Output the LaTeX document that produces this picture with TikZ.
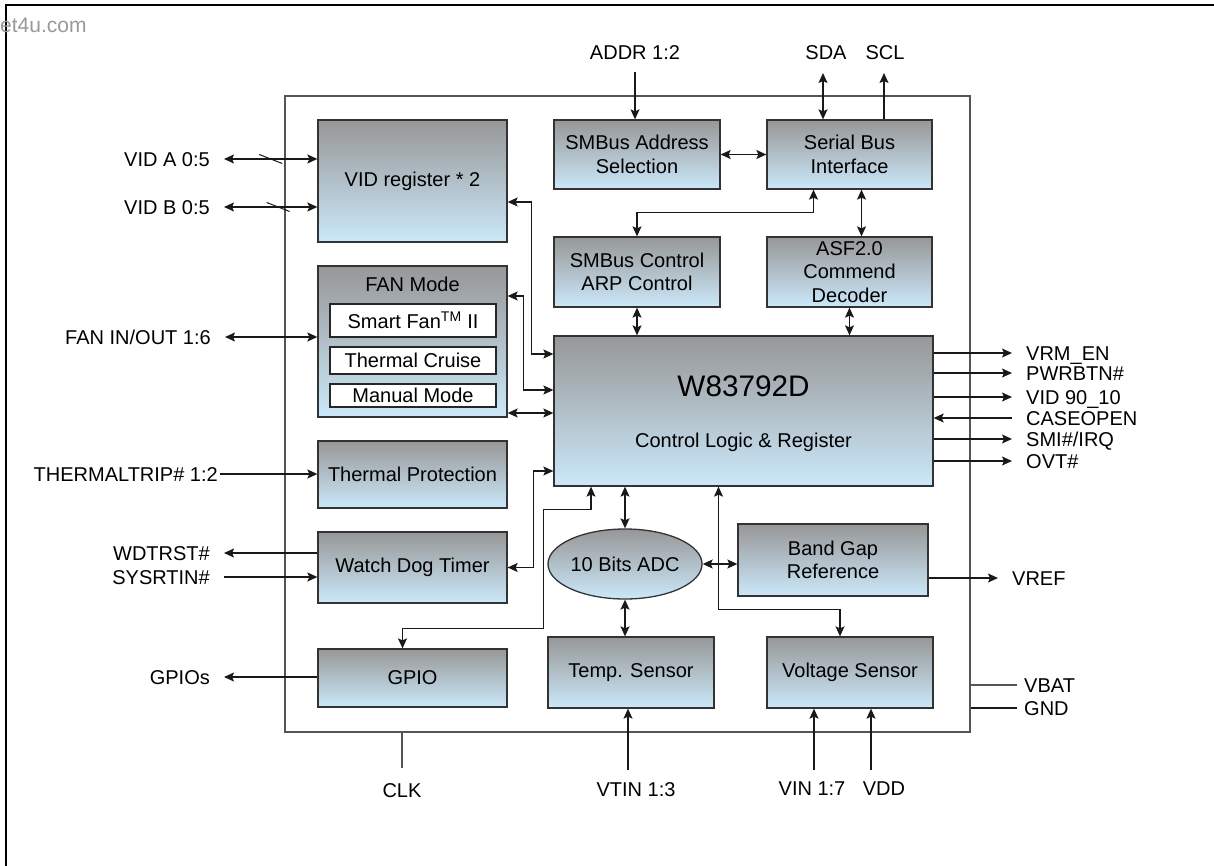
\documentclass[tikz,border=0pt]{standalone}
\usepackage{fontspec}
\setmainfont{Liberation Sans}
\usepackage{tikz}
\usetikzlibrary{shapes,arrows.meta}

\definecolor{blocktop}{HTML}{979797}
\definecolor{blockbot}{HTML}{CBE8FA}
\definecolor{chipline}{HTML}{555555}

\begin{document}
\begin{tikzpicture}[x=1pt,y=-1pt]
    \newcommand{\pingap}[0]{ 14pt }
    \tikzstyle{wire}  = [line width=1.3pt,>={Stealth[length=10pt,width=9pt,inset=2pt]},draw=black!90]
    \tikzstyle{block} = [
      rectangle,
      draw=black!80,
      line width=1.3pt,
      top color=blocktop,
      bottom color=blockbot,
      align=center,
      inner sep=0pt,
      font=\fontsize{20}{23.5}\selectfont
    ]
    \tikzstyle{mode}=[
      rectangle,
      draw=black!85,
      line width=1.3pt,
      fill=white,
      minimum width=166pt,
      inner sep=0pt,
      font=\fontsize{20}{23}\selectfont
    ]
    \tikzstyle{sig}      = [inner sep=0pt,text height=14.3pt,text depth=0pt,font=\fontsize{20}{23}\selectfont]
    \tikzstyle{sigleft}  = [sig,anchor=east,inner xsep=\pingap]
    \tikzstyle{sigright} = [sig,anchor=west,inner xsep=\pingap]

    \useasboundingbox (0,0) rectangle (1214,866);
    \draw[line width=2pt] (1214,5) -- (6,5) -- (6,866);
    \node[anchor=base west,inner sep=0pt,text=black!40,font=\fontsize{21}{24}\selectfont] (mark) at (0,33) {et4u.com};

    \node[draw=chipline,line width=1.3pt,minimum width=685pt,minimum height=636pt,inner sep=0pt] (chip) at (627.5,414) {};

    \node[block,minimum width=189pt,minimum height=122pt] (vidreg) at (412.5,181) {VID register * 2};
    \node[block,minimum width=189pt,minimum height=151pt] (fanmode) at (412.5,341.5) {};
    \node[sig] (fantitle) at (412.5,284) {FAN Mode};
    \node[mode,minimum height=33pt] (smartfan) at (413,320.5) {Smart Fan\textsuperscript{TM} II};
    \node[mode,minimum height=27pt] (cruise) at (413,360.5) {Thermal Cruise};
    \node[mode,minimum height=23pt] (manual) at (413,395.5) {Manual Mode};
    \node[block,minimum width=189pt,minimum height=67pt] (thermprot) at (412.5,474.5) {Thermal Protection};
    \node[block,minimum width=189pt,minimum height=71pt] (wdt) at (412.5,567.5) {Watch Dog Timer};
    \node[block,minimum width=189pt,minimum height=58pt] (gpio) at (412.5,678) {GPIO};
    \node[block,minimum width=166pt,minimum height=69pt] (smbaddr) at (637,154.5) {SMBus Address\\Selection};
    \node[block,minimum width=165pt,minimum height=69pt] (serbus) at (849.5,154.5) {Serial Bus\\Interface};
    \node[block,minimum width=166pt,minimum height=70pt] (smbctl) at (637,272) {SMBus Control\\ARP Control};
    \node[block,minimum width=165pt,minimum height=70pt] (asf) at (849.5,272) {ASF2.0\\Commend\\Decoder};
    \node[block,minimum width=379pt,minimum height=150pt] (main) at (743.5,411) {};
    \node[inner sep=0pt,font=\fontsize{29.7}{32}\selectfont] (chipname) at (743.5,386) {W83792D};
    \node[sig] (chipfunc) at (743.5,440) {Control Logic \& Register};
    \node[block,ellipse,minimum width=142pt,minimum height=70pt] (adc) at (625,564) {10 Bits ADC};
    \node[block,minimum width=190pt,minimum height=72pt] (bandgap) at (833,560) {Band Gap\\Reference};
    \node[block,minimum width=166pt,minimum height=71pt] (temp) at (631,672.5) {Temp. Sensor};
    \node[block,minimum width=166pt,minimum height=71pt] (volt) at (850,672.5) {Voltage Sensor};

    \node[sigleft] (vida) at (224,159) {VID A 0:5};
    \node[sigleft] (vidb) at (224,207) {VID B 0:5};
    \node[sigleft] (fanio) at (225,337) {FAN IN/OUT 1:6};
    \node[sig,anchor=east,inner xsep=2pt] (thtrip) at (220,474) {THERMALTRIP\# 1:2};
    \node[sigleft] (wdtrst) at (224,553) {WDTRST\#};
    \node[sigleft] (sysrtin) at (224,577) {SYSRTIN\#};
    \node[sigleft] (gpios) at (224,677) {GPIOs};

    \node[sigright] (vrmen) at (1012,353) {VRM\_EN};
    \node[sigright] (pwrbtn) at (1012,373) {PWRBTN\#};
    \node[sigright] (vid9010) at (1012,397) {VID 90\_10};
    \node[sigright] (caseopen) at (1012,418) {CASEOPEN};
    \node[sigright] (smiirq) at (1012,439) {SMI\#/IRQ};
    \node[sigright] (ovt) at (1012,461) {OVT\#};
    \node[sigright] (vref) at (998,578) {VREF};
    \node[sig,anchor=west,inner xsep=7pt] (vbat) at (1017,685) {VBAT};
    \node[sig,anchor=west,inner xsep=7pt] (gnd) at (1017,708) {GND};

    \coordinate (addr pin) at (635,72);
    \coordinate (sda pin) at (823,73);
    \coordinate (scl pin) at (884,73);
    \coordinate (clk pin) at (402,768);
    \coordinate (vtin pin) at (628,770);
    \coordinate (vin pin) at (814,770);
    \coordinate (vdd pin) at (871,770);
    \node[sig] (addr) at (635,52) {ADDR 1:2};
    \node[sig] (sda) at (826,52) {SDA};
    \node[sig] (scl) at (885,52) {SCL};
    \node[sig] (clk) at (402,790) {CLK};
    \node[sig] (vtin) at (636,789) {VTIN 1:3};
    \node[sig] (vin) at (812,788) {VIN 1:7};
    \node[sig] (vdd) at (884,788) {VDD};

    \draw[wire,<->] (vida.east) -- (vida.east -| vidreg.west) coordinate[pos=0.5] (vida bus);
    \draw[wire,<->] (vidb.east) -- (vidb.east -| vidreg.west) coordinate[pos=0.58] (vidb bus);
    \draw[wire,line width=1pt] ([shift={(-11.5,-4.5)}]vida bus) -- ++(23,9);
    \draw[wire,line width=1pt] ([shift={(-11.5,-4.5)}]vidb bus) -- ++(23,9);
    \draw[wire,<->] (fanio.east) -- (fanio.east -| fanmode.west);
    \draw[wire,->] (thtrip.east) -- (thtrip.east -| thermprot.west);
    \draw[wire,->] (wdtrst.east -| wdt.west) -- (wdtrst.east);
    \draw[wire,->] (sysrtin.east) -- (sysrtin.east -| wdt.west);
    \draw[wire,->] (gpios.east -| gpio.west) -- (gpios.east);

    \draw[wire,->] (main.east |- vrmen.west) -- (vrmen.west);
    \draw[wire,->] (main.east |- pwrbtn.west) -- (pwrbtn.west);
    \draw[wire,->] (main.east |- vid9010.west) -- (vid9010.west);
    \draw[wire,->] (caseopen.west) -- (caseopen.west -| main.east);
    \draw[wire,->] (main.east |- smiirq.west) -- (smiirq.west);
    \draw[wire,->] (main.east |- ovt.west) -- (ovt.west);
    \draw[wire,->] ([shift={(0,18)}]bandgap.east) -- (vref.west);
    \draw[wire,draw=chipline] (chip.east |- vbat.west) -- (vbat.west);
    \draw[wire] (chip.east |- gnd.west) -- (gnd.west);

    \draw[wire,->] (addr pin) -- (addr pin |- smbaddr.north);
    \draw[wire,<->] (sda pin) -- (sda pin |- serbus.north);
    \draw[wire,->] (scl pin |- serbus.north) -- (scl pin);
    \draw[wire,<->] (smbaddr.east) -- (serbus.west);
    \draw[wire,<->] (smbctl.north) -- ++(0,-24) -| ([shift={(-36,0)}]serbus.south);
    \draw[wire,<->] ([shift={(12,0)}]serbus.south) -- ([shift={(12,0)}]asf.north);
    \draw[wire,<->] (smbctl.south) -- (smbctl.south |- main.north);
    \draw[wire,<->] (asf.south) -- (asf.south |- main.north);

    \draw[wire,<->] ([shift={(0,21)}]vidreg.east) -- ++(24,0) |- ([shift={(0,-57)}]main.west);
    \draw[wire,<->] ([shift={(0,-45.5)}]fanmode.east) -- ++(16,0) |- ([shift={(0,-21)}]main.west);
    \draw[wire,<->] ([shift={(0,71.5)}]fanmode.east) -- ([shift={(0,2)}]main.west);
    \draw[wire,<->] (wdt.east) -- ++(26,0) |- ([shift={(0,60)}]main.west);
    \draw[wire,<->] ([shift={(-10,0)}]gpio.north) -- ++(0,-20) -| ++(141,-119) -| ([shift={(-152.5,0)}]main.south);

    \draw[wire,<->] (adc.north) -- (adc.north |- main.south);
    \draw[wire,<->] (adc.east) -- (adc.east -| bandgap.west);
    \draw[wire,<->] (adc.south) -- (adc.south |- temp.north);
    \draw[wire,<->] ([shift={(-25,0)}]main.south) -- ++(0,123) -| ([shift={(-10,0)}]volt.north);
    \draw[wire,->] (vtin pin) -- (vtin pin |- temp.south);
    \draw[wire,->] (vin pin) -- (vin pin |- volt.south);
    \draw[wire,->] (vdd pin) -- (vdd pin |- volt.south);
    \draw[wire,draw=chipline] (clk pin |- chip.south) -- (clk pin);
\end{tikzpicture}
\end{document}
